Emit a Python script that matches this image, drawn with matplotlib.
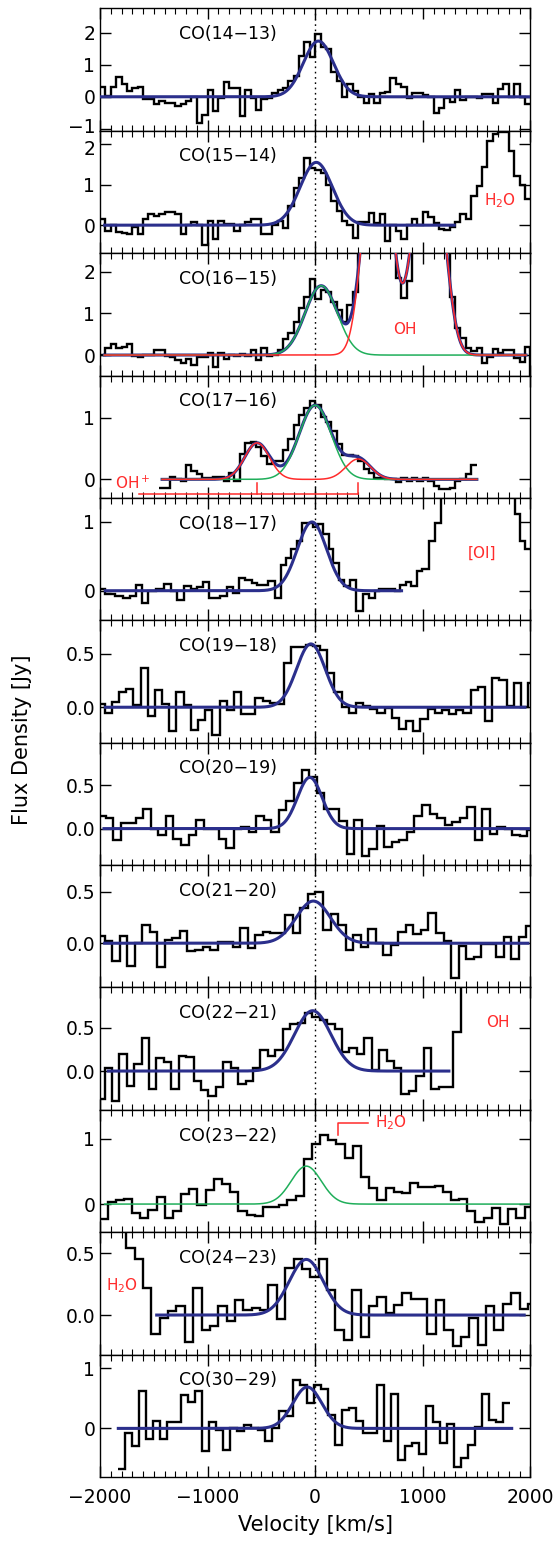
import numpy as np
import matplotlib
matplotlib.use("Agg")
import matplotlib.pyplot as plt
from matplotlib.ticker import MultipleLocator
from matplotlib.transforms import ScaledTranslation

plt.rcParams['font.family'] = ['DejaVu Sans']
plt.rcParams['mathtext.default'] = 'regular'

BLUE = '#2b2f8c'
GREEN = '#1fae5a'
RED = '#ff2b2b'

# line names, top to bottom
lines = ['CO(14\u221213)', 'CO(15\u221214)', 'CO(16\u221215)', 'CO(17\u221216)',
         'CO(18\u221217)', 'CO(19\u221218)', 'CO(20\u221219)', 'CO(21\u221220)',
         'CO(22\u221221)', 'CO(23\u221222)', 'CO(24\u221223)', 'CO(30\u221229)']

ylims = [(-1.06, 2.76), (-0.69, 2.33), (-0.49, 2.44), (-0.30, 1.68),
         (-0.43, 1.35), (-0.33, 0.81), (-0.42, 0.99), (-0.43, 0.76),
         (-0.45, 0.97), (-0.43, 1.44), (-0.32, 0.67), (-0.81, 1.23)]
yticks = [[-1, 0, 1, 2], [0, 1, 2], [0, 1, 2], [0, 1], [0, 1],
          [0.0, 0.5], [0.0, 0.5], [0.0, 0.5], [0.0, 0.5], [0, 1],
          [0.0, 0.5], [0, 1]]
yfmt = ['%d', '%d', '%d', '%d', '%d', '%.1f', '%.1f', '%.1f', '%.1f', '%d', '%.1f', '%d']

# spectra: first bin edge [km/s], bin width [km/s], flux per bin [Jy]
v0_14, dv_14 = -2000, 50
f_14 = [0.3, 0.02, 0.3, 0.62, 0.39, 0.18, 0.26, 0.3, -0.08, -0.08,
        -0.24, -0.14, -0.19, -0.19, -0.29, -0.22, -0.14, 0.0, -0.82, -0.56,
        0.2, -0.45, -0.03, 0.47, 0.28, 0.28, -0.61, 0.2, -0.03, -0.4,
        -0.08, -0.05, 0.13, 0.2, 0.26, 0.5, 0.65, 1.28, 1.7, 1.25,
        1.95, 1.55, 1.5, 0.76, 0.5, 0.0, 0.4, 0.18, 0.0, -0.2,
        0.1, -0.2, 0.12, 0.15, 0.6, 0.4, 0.3, -0.03, 0.12, 0.12,
        0.05, 0.0, -0.5, -0.35, -0.05, -0.15, 0.2, -0.1, 0.0, 0.0,
        -0.03, 0.1, 0.1, -0.2, 0.23, 0.4, 0.0, 0.4, 0.0, -0.24]

v0_15, dv_15 = -2000, 50
f_15 = [0.15, -0.14, 0.0, -0.18, -0.2, -0.22, -0.05, -0.22, 0.15, 0.28,
        0.23, 0.27, 0.33, 0.33, 0.27, -0.22, 0.0, 0.09, 0.0, -0.5,
        0.1, -0.34, 0.1, 0.04, 0.04, -0.14, 0.0, 0.07, 0.15, 0.15,
        -0.22, -0.22, 0.0, 0.1, -0.08, 0.47, 0.92, 1.17, 1.67, 1.41,
        1.37, 1.29, 1.0, 0.6, 0.35, 0.1, 0.0, -0.32, 0.07, 0.08,
        0.3, 0.05, 0.27, -0.38, 0.0, -0.14, -0.34, 0.0, 0.15, 0.0,
        0.33, 0.2, 0.05, -0.1, -0.12, -0.05, 0.07, 0.27, 0.15, 0.72,
        0.96, 1.44, 2.07, 2.25, 2.3, 2.3, 1.82, 1.21, 0.98, 0.64]

v0_16, dv_16 = -2000, 50
f_16 = [0.0, 0.16, 0.26, 0.16, 0.2, 0.26, -0.03, -0.05, 0.0, 0.0,
        0.12, 0.12, -0.02, -0.05, -0.12, -0.2, -0.1, -0.24, -0.05, -0.05,
        0.04, -0.28, 0.04, -0.1, 0.0, -0.02, 0.02, -0.02, 0.12, -0.12,
        0.18, -0.02, 0.0, 0.12, 0.38, 0.54, 0.8, 1.12, 1.4, 1.82,
        1.34, 1.56, 1.52, 1.26, 1.08, 0.8, 1.2, 1.52, 2.6, 3.2,
        3.6, 3.8, 3.6, 3.2, 2.6, 1.84, 1.36, 1.78, 2.8, 3.4,
        3.6, 3.7, 3.5, 3.0, 2.6, 1.4, 0.64, 0.42, 0.16, 0.1,
        0.16, -0.2, -0.05, 0.14, 0.06, 0.12, 0.12, -0.08, -0.16, 0.2,
        -1.0]

v0_17, dv_17 = -1450, 50
f_17 = [-0.14, -0.14, 0.04, 0.0, -0.02, 0.24, 0.14, 0.08, 0.02, 0.02,
        0.04, 0.04, -0.02, 0.11, -0.03, 0.41, 0.59, 0.6, 0.52, 0.37,
        0.25, 0.3, 0.3, 0.47, 0.66, 0.875, 1.04, 1.15, 1.26, 1.2,
        1.01, 0.93, 0.79, 0.58, 0.4, 0.39, 0.37, 0.3, 0.17, 0.11,
        0.03, 0.02, 0.01, 0.0, -0.05, 0.03, -0.02, 0.03, -0.02, 0.03,
        -0.02, -0.1, -0.16, -0.16, -0.14, -0.02, 0.0, 0.09, 0.23]

# CO(18-17) has uneven bin edges
edges_18 = [-2000, -1957, -1863, -1790, -1723, -1663, -1607, -1550, -1483, -1407,
            -1340, -1283, -1217, -1157, -1097, -1040, -990, -940, -883, -823,
            -763, -707, -650, -590, -540, -440, -373, -317, -273, -223,
            -173, -123, -23, 27, 77, 127, 170, 217, 270, 327,
            377, 443, 503, 560, 593, 677, 743, 793, 843, 893,
            943, 993, 1060, 1117, 1170, 1227, 1860, 1903, 1950, 2000]
f_18 = [0.03, -0.05, -0.08, -0.1, -0.08, 0.08, -0.18, -0.01, 0.03, 0.1,
        -0.01, -0.14, 0.07, 0.03, 0.06, 0.13, -0.11, -0.1, -0.08, 0.05,
        -0.03, 0.18, 0.15, 0.11, 0.08, 0.14, -0.11, 0.37, 0.47, 0.61,
        0.73, 0.98, 0.92, 0.97, 0.83, 0.61, 0.4, 0.16, 0.07, 0.16,
        -0.3, -0.05, -0.11, -0.01, 0.02, 0.03, 0.0, 0.08, 0.13, 0.07,
        0.28, 0.32, 0.72, 0.98, 1.5, 2.5, 1.12, 0.73, 0.61]

v0_19, dv_19 = -2023, 66.7
f_19 = [0.03, -0.05, 0.05, 0.14, 0.17, 0.02, 0.37, -0.08, 0.16, 0.03,
        -0.22, 0.14, 0.02, -0.21, -0.12, -0.03, -0.26, 0.06, -0.03, 0.14,
        -0.06, -0.06, 0.09, 0.06, 0.04, 0.03, 0.41, 0.56, 0.56, 0.58,
        0.57, 0.53, 0.32, 0.14, 0.0, -0.05, 0.04, 0.01, -0.02, -0.05,
        -0.01, -0.1, -0.2, -0.13, -0.22, -0.11, -0.02, -0.05, -0.03, -0.06,
        -0.03, -0.05, 0.16, 0.19, -0.13, 0.27, 0.25, 0.01, 0.23, 0.0,
        0.23]

v0_20, dv_20 = -2017, 70
f_20 = [0.14, 0.12, -0.13, 0.06, 0.07, 0.12, 0.23, 0.0, -0.07, 0.14,
        -0.12, -0.19, -0.07, 0.1, 0.0, 0.0, -0.12, -0.22, 0.0, 0.02,
        -0.04, 0.14, 0.1, -0.04, 0.21, 0.32, 0.52, 0.68, 0.59, 0.41,
        0.23, 0.23, 0.09, -0.29, 0.1, -0.32, -0.23, 0.03, -0.21, -0.15,
        -0.13, -0.04, 0.14, 0.27, 0.17, 0.12, 0.04, 0.08, 0.12, 0.25,
        -0.13, 0.23, -0.06, 0.02, 0.0, -0.07, -0.08, -0.02]

v0_21, dv_21 = -2027, 70
f_21 = [0.07, 0.02, -0.17, 0.07, -0.22, 0.0, 0.18, 0.11, -0.23, 0.03,
        0.05, 0.12, -0.08, -0.07, -0.04, -0.07, 0.01, 0.01, -0.04, 0.15,
        -0.05, 0.08, 0.11, 0.1, 0.1, 0.27, 0.1, 0.34, 0.48, 0.5,
        0.13, 0.28, 0.18, -0.07, 0.08, -0.04, 0.14, 0.0, -0.11, -0.02,
        0.11, 0.18, 0.09, 0.13, 0.29, 0.1, 0.02, -0.34, -0.03, -0.15,
        -0.13, -0.01, -0.01, -0.13, 0.06, -0.15, 0.06, 0.17]

v0_22, dv_22 = -2027, 69
f_22 = [-0.33, 0.04, -0.35, 0.2, -0.17, 0.08, 0.38, -0.21, 0.15, 0.11,
        -0.21, 0.18, 0.16, -0.12, -0.22, -0.29, -0.18, 0.1, 0.03, -0.15,
        -0.12, 0.04, 0.24, 0.17, 0.24, 0.49, 0.55, 0.56, 0.67, 0.63,
        0.59, 0.55, 0.49, 0.22, 0.27, 0.2, 0.38, 0.01, 0.25, 0.12,
        0.03, -0.27, -0.23, -0.06, 0.27, -0.21, -0.18, -0.19, 0.45, 1.4,
        2.0, 2.5, 2.8, 2.8, 2.6, 2.4, 2.2, 2.0, 1.8]

v0_23, dv_23 = -2006, 76
f_23 = [-0.23, 0.03, 0.06, 0.08, -0.14, -0.21, -0.09, 0.11, -0.21, -0.11,
        0.16, 0.23, -0.01, 0.22, 0.38, 0.3, 0.19, -0.1, -0.16, -0.18,
        -0.04, -0.05, -0.01, 0.06, 0.13, 0.69, 0.92, 1.05, 0.98, 0.92,
        0.7, 0.88, 0.42, 0.24, 0.07, 0.24, 0.19, 0.17, 0.32, 0.26,
        0.26, 0.28, 0.18, 0.06, 0.08, -0.1, -0.28, -0.21, -0.06, -0.3,
        -0.08, -0.21, -0.05]

v0_24, dv_24 = -2068, 77.8
f_24 = [1.2, 1.0, 0.9, 0.8, 0.54, 0.45, 0.22, -0.15, -0.02, 0.035,
        0.07, -0.22, 0.22, -0.12, -0.09, 0.07, -0.05, 0.12, 0.04, 0.06,
        0.04, 0.24, -0.03, 0.38, 0.45, 0.37, 0.31, 0.45, 0.2, -0.12,
        -0.2, 0.2, -0.18, 0.07, 0.15, 0.02, 0.08, 0.18, 0.13, 0.13,
        -0.15, 0.12, -0.12, -0.25, -0.18, -0.02, -0.24, 0.07, -0.12, 0.09,
        0.18, 0.05, 0.09]

v0_30, dv_30 = -1830, 65
f_30 = [-0.67, -0.07, -0.29, 0.63, -0.18, 0.13, -0.17, 0.11, 0.11, 0.55,
        0.44, 0.63, -0.38, 0.11, -0.02, -0.36, 0.0, -0.04, 0.05, 0.0,
        -0.03, -0.21, 0.0, 0.29, 0.21, 0.8, 0.72, 0.43, 0.73, 0.65,
        0.23, -0.27, 0.31, 0.34, 0.12, -0.07, -0.08, 0.72, -0.21, 0.58,
        -0.53, -0.29, -0.25, -0.43, 0.37, 0.11, -0.24, 0.08, -0.64, -0.49,
        -0.27, 0.03, 0.57, 0.14, 0.11, 0.42]

# gaussian fits of the CO line: amplitude [Jy], centre and sigma [km/s], drawn range
co_amp = [1.74, 1.55, 1.66, 1.2, 1.0, 0.59, 0.59, 0.41, 0.70, 0.58, 0.45, 0.69]
co_cen = [30, 10, 56, 0, -30, -40, -50, -17, -23, -83, -83, -73]
co_sig = [140, 150, 150, 150, 136, 133, 115, 160, 170, 140, 158, 135]
fit_lo = [-2000, -1957, -1960, -1423, -1950, -1950, -1963, -1957, -1923, -1957, -1473, -1830]
fit_hi = [2000, 1293, 1960, 1503, 803, 1950, 2000, 1977, 1243, 2000, 1943, 1827]

# OH blend next to CO(16-15)
oh_cen = [520, 640, 980, 1130]
oh_amp = [3.5, 3.5, 3.5, 3.5]
oh_sig = [100, 100, 100, 100]

# OH+ lines next to CO(17-16)
ohp_cen = [-540, 400]
ohp_amp = [0.59, 0.33]
ohp_sig = [115, 115]
ohp_bar_v = [-1640, 400]
ohp_bar_y = -0.23
ohp_tick_top = -0.06

# H2O marker in CO(23-22)
h2o_mark_v = [210, 210, 493]
h2o_mark_y = [1.06, 1.24, 1.24]


def gauss(v, amp, cen, sig):
    return amp * np.exp(-0.5 * ((v - cen) / sig) ** 2)


def bins(v0, dv, f):
    return v0 + dv * np.arange(len(f) + 1)


spectra = [(bins(v0_14, dv_14, f_14), f_14), (bins(v0_15, dv_15, f_15), f_15),
           (bins(v0_16, dv_16, f_16), f_16), (bins(v0_17, dv_17, f_17), f_17),
           (np.array(edges_18), f_18), (bins(v0_19, dv_19, f_19), f_19),
           (bins(v0_20, dv_20, f_20), f_20), (bins(v0_21, dv_21, f_21), f_21),
           (bins(v0_22, dv_22, f_22), f_22), (bins(v0_23, dv_23, f_23), f_23),
           (bins(v0_24, dv_24, f_24), f_24), (bins(v0_30, dv_30, f_30), f_30)]

fig, axes = plt.subplots(12, 1, figsize=(5.6, 15.5), dpi=100, sharex=True)
fig.subplots_adjust(left=0.1786, right=0.947, top=0.9946, bottom=0.0471, hspace=0)

for i, ax in enumerate(axes):
    edges, flux = spectra[i]
    ax.stairs(flux, edges, color='k', lw=1.7, baseline=None, zorder=3)

    v = np.linspace(fit_lo[i], fit_hi[i], 800)
    co = gauss(v, co_amp[i], co_cen[i], co_sig[i])
    if i == 2:
        oh = sum(gauss(v, a, c, s) for a, c, s in zip(oh_amp, oh_cen, oh_sig))
        ax.plot(v, co + oh, color=BLUE, lw=2.2, zorder=4)
        ax.plot(v, co, color=GREEN, lw=1.1, zorder=5)
        ax.plot(v, oh, color=RED, lw=1.1, zorder=5)
    elif i == 3:
        ohp = sum(gauss(v, a, c, s) for a, c, s in zip(ohp_amp, ohp_cen, ohp_sig))
        ax.plot(v, co + ohp, color=BLUE, lw=2.2, zorder=4)
        ax.plot(v, co, color=GREEN, lw=1.1, zorder=5)
        ax.plot(v, ohp, color=RED, lw=1.1, zorder=5)
    elif i == 9:
        ax.plot(v, co, color=GREEN, lw=1.1, zorder=5)
    else:
        ax.plot(v, co, color=BLUE, lw=2.2, zorder=4)

    ax.axvline(0, color='k', lw=1.0, ls=(0, (1.2, 2.6)), zorder=2)
    ax.set_xlim(-2000, 2000)
    ax.set_ylim(*ylims[i])
    ax.set_yticks(yticks[i])
    ax.set_yticklabels([(yfmt[i] % t).replace('-', '\u2212') for t in yticks[i]])
    ax.xaxis.set_major_locator(MultipleLocator(1000))
    ax.xaxis.set_minor_locator(MultipleLocator(100))
    ax.tick_params(which='major', direction='in', top=True, right=True,
                   length=8, width=1, labelsize=13.5)
    ax.tick_params(which='minor', direction='in', top=True, right=True,
                   length=4, width=0.8)
    ax.tick_params(axis='y', which='minor', left=False, right=False)
    ax.tick_params(axis='x', which='major', pad=8)
    for sp in ax.spines.values():
        sp.set_linewidth(1.0)
    ax.text(0.183, 0.79, lines[i], transform=ax.transAxes, fontsize=12.5,
            ha='left', va='center')

# keep the "-1" of the top panel clear of the "2" below it
lab_lo = axes[0].get_yticklabels()[0]
lab_lo.set_transform(lab_lo.get_transform() + ScaledTranslation(0, 2.5 / 72, fig.dpi_scale_trans))
lab_hi = axes[1].get_yticklabels()[-1]
lab_hi.set_transform(lab_hi.get_transform() + ScaledTranslation(0, -2.5 / 72, fig.dpi_scale_trans))

# red annotations
axes[1].text(1720, 0.6, 'H$_2$O', color=RED, fontsize=11, ha='center', va='center')
axes[2].text(830, 0.6, 'OH', color=RED, fontsize=11, ha='center', va='center')
axes[3].text(-1700, -0.06, 'OH$^+$', color=RED, fontsize=11, ha='center', va='center')
axes[3].plot(ohp_bar_v, [ohp_bar_y, ohp_bar_y], color=RED, lw=1.1)
for c in ohp_cen:
    axes[3].plot([c, c], [ohp_bar_y, ohp_tick_top], color=RED, lw=1.1)
axes[4].text(1550, 0.54, '[OI]', color=RED, fontsize=11, ha='center', va='center')
axes[8].text(1700, 0.56, 'OH', color=RED, fontsize=11, ha='center', va='center')
axes[9].plot(h2o_mark_v, h2o_mark_y, color=RED, lw=1.1)
axes[9].text(560, 1.24, 'H$_2$O', color=RED, fontsize=11, ha='left', va='center')
axes[10].text(-1800, 0.24, 'H$_2$O', color=RED, fontsize=11, ha='center', va='center')

axes[-1].set_xticks([-2000, -1000, 0, 1000, 2000])
axes[-1].set_xlabel('Velocity [km/s]', fontsize=15, labelpad=6)
fig.text(0.04, 0.523, 'Flux Density [Jy]', rotation=90, fontsize=15,
         ha='center', va='center')

fig.savefig('out.png', dpi=100)
